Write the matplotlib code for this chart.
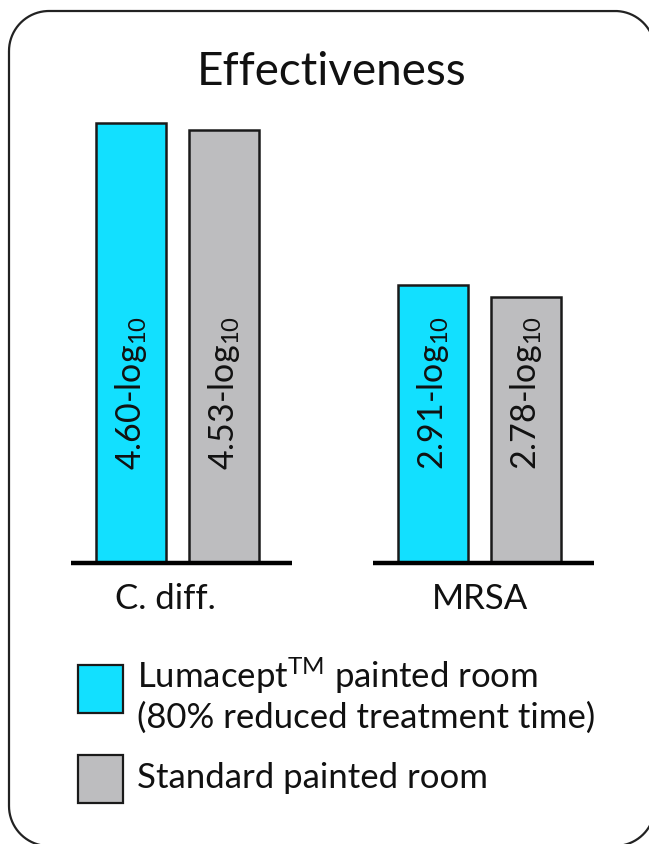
import matplotlib
matplotlib.use("Agg")
import numpy as np
import matplotlib.pyplot as plt
from matplotlib.patches import Rectangle
from matplotlib.lines import Line2D

plt.rcParams['font.family'] = ['Lato', 'DejaVu Sans']
plt.rcParams['mathtext.fontset'] = 'custom'
plt.rcParams['mathtext.rm'] = 'Lato'
plt.rcParams['mathtext.it'] = 'Lato'

# ---- data ----
title = "Effectiveness"
categories = ["C. diff.", "MRSA"]
legend_lines = [["Lumacept$^{\\mathrm{TM}}$ painted room", "(80% reduced treatment time)"],
                ["Standard painted room"]]
lumacept = [4.60, 2.91]
standard = [4.53, 2.78]
colors = ["#12E0FF", "#BDBDBF"]

W, H = 649, 844
fig = plt.figure(figsize=(W / 100, H / 100), dpi=100)

# rounded frame (partly outside the canvas) drawn as explicit path, off-canvas parts masked
fl, ft, fr, fb, rad = 9, 11, 655, 846, 40
def arc(cx, cy, a0, a1):
    t = np.radians(np.linspace(a0, a1, 60))
    return cx + rad * np.cos(t), cy - rad * np.sin(t)
xs, ys = [], []
for cx, cy, a0, a1 in [(fl + rad, ft + rad, 180, 90), (fr - rad, ft + rad, 90, 0),
                       (fr - rad, fb - rad, 0, -90), (fl + rad, fb - rad, -90, -180)]:
    ax_, ay_ = arc(cx, cy, a0, a1)
    xs.extend(ax_); ys.extend(ay_)
xs.append(xs[0]); ys.append(ys[0])
xs = np.array(xs); ys = np.array(ys)
outside = (xs > W + 1.5) | (ys > H + 1.5)
xs[outside] = np.nan; ys[outside] = np.nan
fig.lines.append(Line2D(xs / W, 1 - ys / H, transform=fig.transFigure,
                        color="#222222", lw=1.6, solid_joinstyle="round",
                        solid_capstyle="butt"))

# axes: baseline at image y=563, scale 95.6 px per unit
base_px = 563
top_px = 100
scale = 95.6
ax = fig.add_axes([0, (H - base_px) / H, 1, (base_px - top_px) / H])
ax.set_xlim(-177.25 / 302, (W - 177.25) / 302)
ax.set_ylim(0, (base_px - top_px) / scale)
ax.axis("off")

off = 46.25 / 302
bw = 70 / 302
x = list(range(len(categories)))
for i, (vals, c) in enumerate(zip([lumacept, standard], colors)):
    pos = [xi + (-off if i == 0 else off) for xi in x]
    ax.bar(pos, vals, width=bw, color=c, edgecolor="#1a1a1a", linewidth=1.8, zorder=2)
    for p, v in zip(pos, vals):
        ax.text(p, 93 / scale, f"{v:.2f}-log$_{{\\mathrm{{10}}}}$", rotation=90,
                ha="center", va="bottom", fontsize=24.5, color="#111111", zorder=3)

ax.hlines([0] * len(x), [xi - 0.352 for xi in x], [xi + 0.38 for xi in x],
          colors="black", linewidth=3.2, clip_on=False, zorder=3)
label_x = [165, 480]
for lx, cat in zip(label_x, categories):
    fig.text(lx / W, 1 - 609 / H, cat, ha="center", va="baseline",
             fontsize=25, color="#111111")

# title
fig.text(332 / W, 1 - 85 / H, title, ha="center", va="baseline", fontsize=33, color="#111111")

# legend
for (y0, y1), c in zip([(665, 713), (755, 803)], colors):
    fig.patches.append(Rectangle((78 / W, 1 - y1 / H), 45 / W, (y1 - y0) / H,
                                 transform=fig.transFigure, facecolor=c,
                                 edgecolor="#1a1a1a", lw=1.6))
text_rows = [(688, legend_lines[0][0]), (728, legend_lines[0][1]), (788, legend_lines[1][0])]
for yb, s in text_rows:
    fig.text(137 / W, 1 - yb / H, s, ha="left", va="baseline", fontsize=25, color="#111111")

fig.savefig("out.png", dpi=100)
